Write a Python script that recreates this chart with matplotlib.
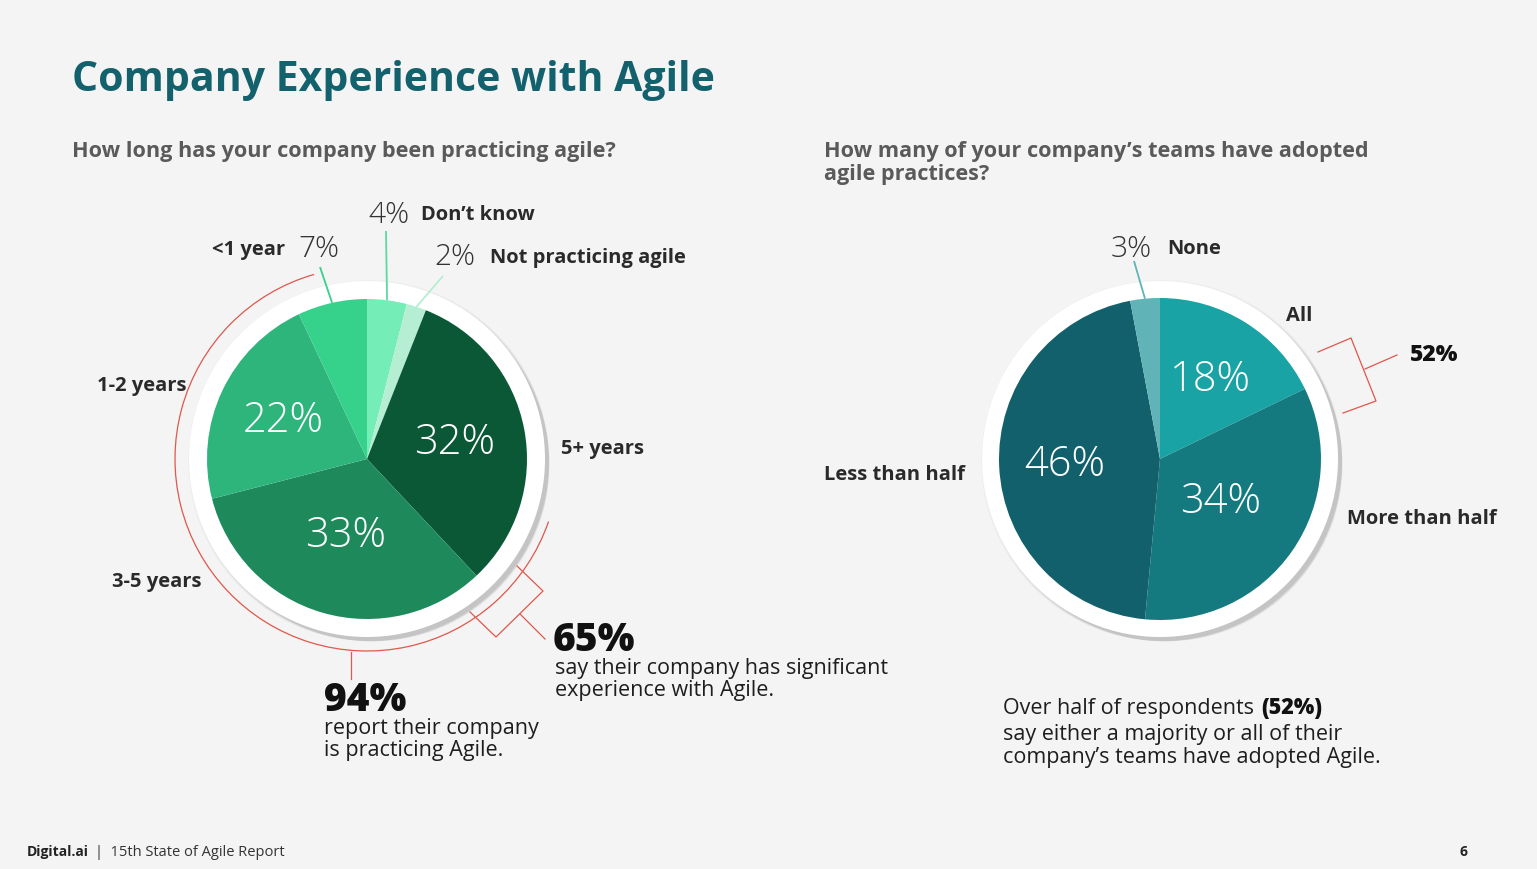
import numpy as np
import matplotlib.pyplot as plt
from matplotlib.patches import Circle, Arc

W, H = 1537, 870
plt.rcParams['font.family'] = ['Open Sans', 'DejaVu Sans']

# left chart: how long has your company been practicing agile (clockwise from 12 o'clock)
years_labels = ["Don\u2019t know", "Not practicing agile", "5+ years", "3-5 years", "1-2 years", "<1 year"]
years_values = [4, 2, 32, 33, 22, 7]
years_colors = ['#74edb6', '#b5eed2', '#0b5837', '#1e8a5c', '#2db57c', '#36d18b']

# right chart: how many teams have adopted agile
teams_labels = ['All', 'More than half', 'Less than half', 'None']
teams_values = [18, 34, 46, 3]
teams_colors = ['#19a3a4', '#147a80', '#12606c', '#60b3b6']

BG = '#f4f4f4'
RED = '#e0574c'
DARK = '#2a2a2a'

fig = plt.figure(figsize=(W / 100, H / 100), dpi=100)
fig.patch.set_facecolor(BG)
ax = fig.add_axes([0, 0, 1, 1])
ax.set_facecolor(BG)


def Y(y):
    return H - y


def txt(x, y, s, **kw):
    kw.setdefault('va', 'baseline')
    kw.setdefault('color', DARK)
    return ax.text(x, Y(y), s, **kw)


def ring(cx, cy, r_ring):
    # soft drop shadow then white ring
    for i in range(10):
        off = 1.5 + i * 0.55
        ax.add_patch(Circle((cx + off, Y(cy) - off), r_ring + 2.5 - i * 0.5,
                            color='#000000', alpha=0.018, lw=0, zorder=1))
    ax.add_patch(Circle((cx, Y(cy)), r_ring, color='white', lw=0, zorder=2))


def draw_pie(cx, cy, r, values, colors):
    wedges, _ = ax.pie(values, colors=colors, startangle=90, counterclock=False,
                       center=(cx, Y(cy)), radius=r, frame=True,
                       wedgeprops=dict(linewidth=0))
    for w in wedges:
        w.set_zorder(3)
    return wedges


def inner_label(w, cx, cy, r, dist, s):
    a = np.deg2rad((w.theta1 + w.theta2) / 2)
    ax.text(cx + r * dist * np.cos(a), Y(cy) + r * dist * np.sin(a), s,
            ha='center', va='center', color='white', fontsize=30,
            fontweight='light', zorder=5)


def leader(w, cx, cy, r, x2, y2, color):
    a = np.deg2rad((w.theta1 + w.theta2) / 2)
    ax.plot([cx + r * np.cos(a), x2], [Y(cy) + r * np.sin(a), Y(y2)],
            color=color, lw=1.3, zorder=4, solid_capstyle='butt')


# ---- title and questions
sub_kw = dict(fontsize=15.6, fontweight='bold', color='#5a5a5a')
txt(72, 91, 'Company Experience with Agile', fontsize=29.5, fontweight='bold', color='#13616d')
txt(72, 157, 'How long has your company been practicing agile?', **sub_kw)
txt(824, 157, 'How many of your company\u2019s teams have adopted', **sub_kw)
txt(824, 180, 'agile practices?', **sub_kw)

# ---- left pie
lcx, lcy, lr = 367, 460, 160
ring(lcx, lcy, 178)
lw_ = draw_pie(lcx, lcy, lr, years_values, years_colors)
inner_label(lw_[2], lcx, lcy, lr, 0.56, f'{years_values[2]}%')
inner_label(lw_[3], lcx, lcy, lr, 0.49, f'{years_values[3]}%')
inner_label(lw_[4], lcx, lcy, lr, 0.58, f'{years_values[4]}%')

leader(lw_[0], lcx, lcy, lr, 386, 232, '#5cd9a1')
leader(lw_[1], lcx, lcy, lr, 443, 277, '#b5eed2')
leader(lw_[5], lcx, lcy, lr, 320, 268, '#36d18b')

pct_kw = dict(fontsize=21.5, fontweight='light', color='#333333')
lab_kw = dict(fontsize=14.5, fontweight='bold')
txt(368, 223, f'{years_values[0]}%', **pct_kw)
txt(421, 220, years_labels[0], **lab_kw)
txt(434, 265, f'{years_values[1]}%', **pct_kw)
txt(490, 263, years_labels[1], **lab_kw)
txt(285, 255, years_labels[5], ha='right', **lab_kw)
txt(298, 257, f'{years_values[5]}%', **pct_kw)
txt(186, 391, years_labels[4], ha='right', **lab_kw)
txt(561, 454, years_labels[2], **lab_kw)
txt(201, 587, years_labels[3], ha='right', **lab_kw)

# 94% arc and tick
ax.add_patch(Arc((lcx, Y(lcy)), 2 * 192, 2 * 192, theta1=106, theta2=341,
                 color=RED, lw=0.9, zorder=4))
ax.plot([351, 351], [Y(653), Y(680)], color=RED, lw=0.9)

# 65% bracket
ax.plot([517, 543, 496, 470], [Y(567), Y(592), Y(638), Y(613)], color=RED, lw=0.9)
ax.plot([520, 545], [Y(615), Y(640)], color=RED, lw=0.9)

big_kw = dict(fontsize=28, fontweight='heavy', color='#111111')
body_kw = dict(fontsize=15.5, color='#1e1e1e')
txt(553, 651, '65%', **big_kw)
txt(555, 674, 'say their company has significant', **body_kw)
txt(555, 696, 'experience with Agile.', **body_kw)
txt(324, 711, '94%', **big_kw)
txt(324, 734, 'report their company', **body_kw)
txt(324, 756, 'is practicing Agile.', **body_kw)

# ---- right pie
rcx, rcy, rr = 1160, 460, 161
ring(rcx, rcy, 178)
rw_ = draw_pie(rcx, rcy, rr, teams_values, teams_colors)
inner_label(rw_[0], rcx, rcy, rr, 0.59, f'{teams_values[0]}%')
inner_label(rw_[1], rcx, rcy, rr, 0.46, f'{teams_values[1]}%')
inner_label(rw_[2], rcx, rcy, rr, 0.59, f'{teams_values[2]}%')
leader(rw_[3], rcx, rcy, rr, 1134, 262, '#60b3b6')

txt(1111, 257, f'{teams_values[3]}%', **pct_kw)
txt(1167, 254, teams_labels[3], **lab_kw)
txt(1286, 321, teams_labels[0], **lab_kw)
txt(1347, 524, teams_labels[1], **lab_kw)
txt(824, 480, teams_labels[2], **lab_kw)

# 52% bracket
ax.plot([1318, 1351, 1376, 1343], [Y(353), Y(339), Y(402), Y(414)], color=RED, lw=0.9)
ax.plot([1365, 1397], [Y(370), Y(356)], color=RED, lw=0.9)
txt(1410, 361, f'{teams_values[0] + teams_values[1]}%', fontsize=16.5, fontweight='heavy',
    color='#111111')

# fix limits before measuring text so data units == pixels
ax.set_xlim(0, W)
ax.set_ylim(0, H)
ax.set_aspect('equal')
ax.set_axis_off()
fig.canvas.draw()
rend = fig.canvas.get_renderer()
inv = ax.transData.inverted()


def right_edge(t):
    bb = t.get_window_extent(renderer=rend)
    return inv.transform((bb.x1, bb.y0))[0]


t1 = txt(1003, 714, 'Over half of respondents', **body_kw)
txt(right_edge(t1) + 7, 714, f'({teams_values[0] + teams_values[1]}%)', fontsize=15.5,
    fontweight='heavy', color='#111111')
txt(1003, 740, 'say either a majority or all of their', **body_kw)
txt(1003, 763, 'company\u2019s teams have adopted Agile.', **body_kw)

# ---- footer
t2 = txt(27, 856, 'Digital.ai', fontsize=10, fontweight='bold', color='#222222')
txt(right_edge(t2) + 6, 856, '|  15th State of Agile Report', fontsize=10.5, color='#333333')
txt(1467, 856, '6', fontsize=10, fontweight='bold', ha='right', color='#222222')

fig.savefig('out.png', dpi=100, facecolor=BG)
